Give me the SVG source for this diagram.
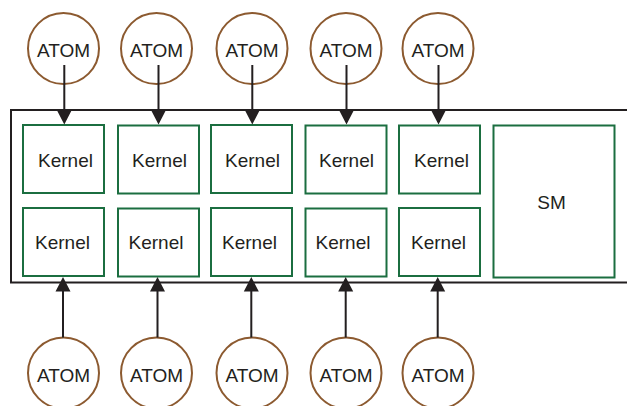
<svg xmlns="http://www.w3.org/2000/svg" width="627" height="406" viewBox="0 0 627 406">
<defs>
<style>
.atom{fill:#fff;stroke:#8c5a30;stroke-width:2}
.box{fill:#fff;stroke:#1b6e40;stroke-width:2}
.frame{fill:none;stroke:#231f20;stroke-width:2}
.t{font-family:"Liberation Sans",Arial,sans-serif;font-size:19px;fill:#231f20;text-anchor:middle}
.c{stroke:#231f20;stroke-width:2;fill:none}
.h{fill:#231f20}
</style>
</defs>
<rect width="627" height="406" fill="#fff"/>
<rect id="frame" class="frame" x="11" y="110" width="630" height="172.5"/>
<g id="atom-t1"><circle class="atom" cx="63.5" cy="48.5" r="35.5"/><text class="t" x="63.5" y="56.5">ATOM</text></g>
<g id="atom-t2"><circle class="atom" cx="156.5" cy="48.5" r="35.5"/><text class="t" x="156.5" y="56.5">ATOM</text></g>
<g id="atom-t3"><circle class="atom" cx="252" cy="48.5" r="35.5"/><text class="t" x="252" y="56.5">ATOM</text></g>
<g id="atom-t4"><circle class="atom" cx="346" cy="48.5" r="35.5"/><text class="t" x="346" y="56.5">ATOM</text></g>
<g id="atom-t5"><circle class="atom" cx="438" cy="48.5" r="35.5"/><text class="t" x="438" y="56.5">ATOM</text></g>
<g id="atom-b1"><circle class="atom" cx="63.5" cy="373" r="35.5"/><text class="t" x="63.5" y="381.5">ATOM</text></g>
<g id="atom-b2"><circle class="atom" cx="156.5" cy="373" r="35.5"/><text class="t" x="156.5" y="381.5">ATOM</text></g>
<g id="atom-b3"><circle class="atom" cx="252" cy="373" r="35.5"/><text class="t" x="252" y="381.5">ATOM</text></g>
<g id="atom-b4"><circle class="atom" cx="346" cy="373" r="35.5"/><text class="t" x="346" y="381.5">ATOM</text></g>
<g id="atom-b5"><circle class="atom" cx="438" cy="373" r="35.5"/><text class="t" x="438" y="381.5">ATOM</text></g>
<g id="kernel-t1"><rect class="box" x="23" y="125" width="81" height="68"/><text class="t" x="65.5" y="166.5">Kernel</text></g>
<g id="kernel-t2"><rect class="box" x="118" y="125.5" width="81" height="68"/><text class="t" x="159.5" y="166.5">Kernel</text></g>
<g id="kernel-t3"><rect class="box" x="211" y="125" width="81" height="68"/><text class="t" x="252.5" y="166.5">Kernel</text></g>
<g id="kernel-t4"><rect class="box" x="305.5" y="125.5" width="81" height="68"/><text class="t" x="346.5" y="166.5">Kernel</text></g>
<g id="kernel-t5"><rect class="box" x="399" y="125.5" width="81" height="68"/><text class="t" x="441.5" y="166.5">Kernel</text></g>
<g id="kernel-b1"><rect class="box" x="23" y="208" width="81" height="68"/><text class="t" x="62.5" y="249">Kernel</text></g>
<g id="kernel-b2"><rect class="box" x="118" y="208.5" width="81" height="68"/><text class="t" x="156" y="249">Kernel</text></g>
<g id="kernel-b3"><rect class="box" x="211" y="208" width="81" height="68"/><text class="t" x="249.5" y="249">Kernel</text></g>
<g id="kernel-b4"><rect class="box" x="305.5" y="208.5" width="81" height="68"/><text class="t" x="343" y="249">Kernel</text></g>
<g id="kernel-b5"><rect class="box" x="399" y="208" width="81" height="68"/><text class="t" x="438.5" y="249">Kernel</text></g>
<g id="sm"><rect class="box" x="493.5" y="125.5" width="121" height="152"/><text class="t" x="551.5" y="209">SM</text></g>
<g id="connectors">
<path class="c" d="M64.3 65V112M158.5 65V112M252.3 65V112M346.5 65V112M438.5 65V112"/>
<path class="h" d="M56.8 110L71.8 110L64.3 124.5ZM151 110L166 110L158.5 124.5ZM244.8 110L259.8 110L252.3 124.5ZM339 110L354 110L346.5 124.5ZM431 110L446 110L438.5 124.5Z"/>
<path class="c" d="M63 337.5V290M157.5 337.5V290M251.3 337.5V290M345.7 337.5V290M437.7 337.5V290"/>
<path class="h" d="M55.5 291.5L70.5 291.5L63 277ZM150 291.5L165 291.5L157.5 277ZM243.8 291.5L258.8 291.5L251.3 277ZM338.2 291.5L353.2 291.5L345.7 277ZM430.2 291.5L445.2 291.5L437.7 277Z"/>
</g>
</svg>
